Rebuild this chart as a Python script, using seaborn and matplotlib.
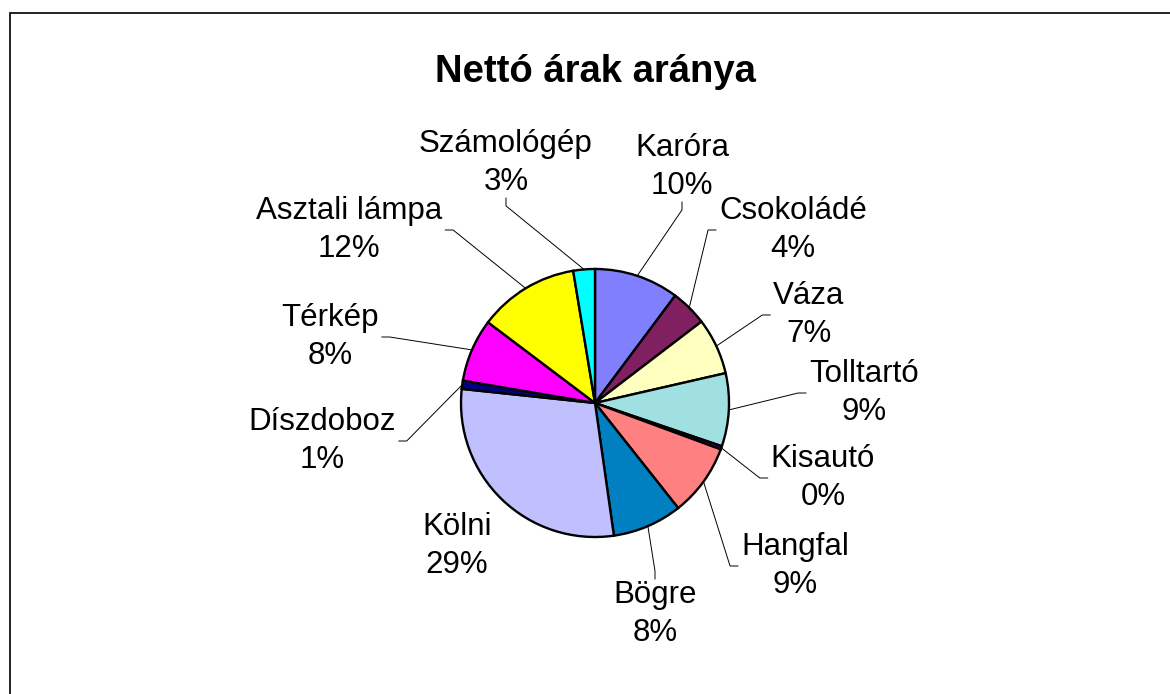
import matplotlib
matplotlib.use("Agg")
import matplotlib.pyplot as plt
import seaborn as sns
import numpy as np

# ---- data ----
categories = ["Karóra", "Csokoládé", "Váza", "Tolltartó", "Kisautó", "Hangfal",
              "Bögre", "Kölni", "Díszdoboz", "Térkép", "Asztali lámpa", "Számológép"]
values = [10.2, 4.4, 6.8, 8.8, 0.4, 8.7, 8.4, 28.9, 1.0, 7.6, 12.1, 2.6]
slice_colors = ["#8080FF", "#802060", "#FFFFC0", "#A0E0E0", "#600080", "#FF8080",
                "#0080C0", "#C0C0FF", "#000080", "#FF00FF", "#FFFF00", "#00FFFF"]
title = "Nettó árak aránya"

# ---- layout (pixel coordinates, origin top-left) ----
W, H = 1170, 694
pie_center_px = (595, 403)
pie_radius = 134
label_pos_px = [(682, 167), (793, 230), (809, 315), (864, 393), (823, 478), (795, 566),
                (655, 614), (457, 546), (322, 441), (330, 337), (349, 230), (506, 163)]
leader_mode = ["above", "right", "right", "right", "right", "right",
               "below", "none", "left", "left", "left", "above"]

sns.set_theme(style="white")
plt.rcParams["font.family"] = ["Liberation Sans", "DejaVu Sans"]
plt.rcParams["text.color"] = "black"

fig = plt.figure(figsize=(W / 100, H / 100), dpi=100)
ax = fig.add_axes([0, 0, 1, 1])

cx, cy = pie_center_px[0], H - pie_center_px[1]
wedges, _ = ax.pie(values, colors=slice_colors, startangle=90, counterclock=False,
                   center=(cx, cy), radius=pie_radius,
                   wedgeprops=dict(edgecolor="black", linewidth=1.7))
ax.set_xlim(0, W)
ax.set_ylim(0, H)
ax.set_aspect("auto")
ax.axis("off")

ax.text(595, H - 72, title, ha="center", va="center", fontsize=27.5,
        fontweight="bold", color="black")

total = sum(values)
texts = []
for name, v, (lx, ly) in zip(categories, values, label_pos_px):
    pct = v / total * 100
    t = ax.text(lx, H - ly, f"{name}\n{pct:.0f}%", ha="center", va="center",
                multialignment="center", fontsize=22.5, linespacing=1.34, color="black")
    texts.append(t)

fig.canvas.draw()
renderer = fig.canvas.get_renderer()
for w, t, mode in zip(wedges, texts, leader_mode):
    if mode == "none":
        continue
    ang = np.deg2rad((w.theta1 + w.theta2) / 2)
    px = cx + pie_radius * np.cos(ang)
    py = cy + pie_radius * np.sin(ang)
    b = t.get_window_extent(renderer)
    bcx, bcy = (b.x0 + b.x1) / 2, (b.y0 + b.y1) / 2
    if mode == "above":
        a, s = (bcx, b.y0 - 1), (bcx, b.y0 - 9)
    elif mode == "below":
        a, s = (bcx, b.y1 + 1), (bcx, b.y1 + 9)
    elif mode == "right":
        a, s = (b.x0 - 3, bcy), (b.x0 - 11, bcy)
    else:
        a, s = (b.x1 + 3, bcy), (b.x1 + 11, bcy)
    ax.plot([a[0], s[0], px], [a[1], s[1], py], color="black", lw=0.7,
            solid_joinstyle="miter", zorder=0.5)

# chart frame (extends past right and bottom edges)
ax.plot([9.5, 9.5, W + 5], [-5, H - 12.5, H - 12.5], color="#111111", lw=1.3,
        solid_joinstyle="miter", clip_on=False)

fig.savefig("out.png", dpi=100, facecolor="white")
